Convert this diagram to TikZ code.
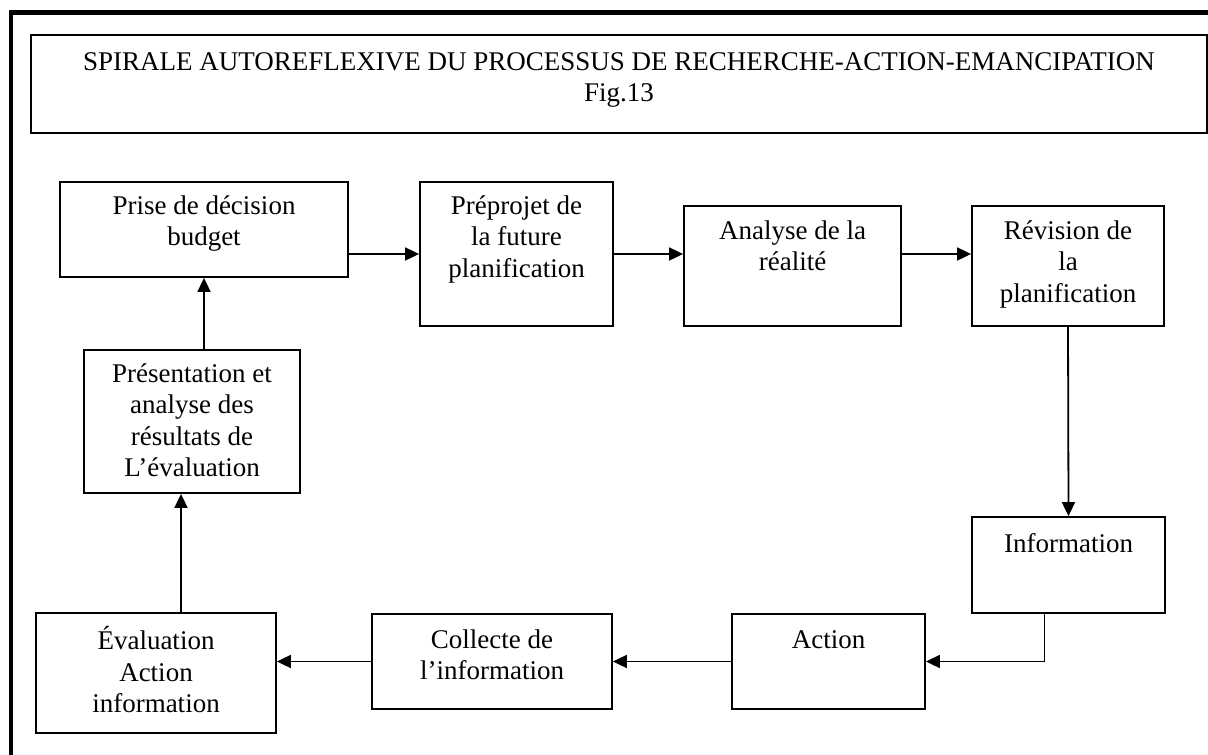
\documentclass[tikz,border=0pt]{standalone}
\usepackage{fontspec}
\setmainfont{Liberation Serif}
\usetikzlibrary{positioning, arrows.meta}

\begin{document}
\begin{tikzpicture}[
      x=0.5pt, y=-0.5pt,
      every node/.style={font=\fontsize{13.5}{15.7}\selectfont},
      stepbox/.style={draw, line width=0.9pt, inner sep=0pt},
      boxtext/.style={inner sep=0pt, align=center},
      flow/.style={->, line width=0.9pt},
      >={Triangle[length=7pt, width=6.5pt]},
    ]
    \path[use as bounding box, clip] (0,0) rectangle (1208,754);
    \draw[line width=2.2pt] (11,12.5) rectangle (1230,780);

    % title
    \node[stepbox, minimum width=588pt, minimum height=49pt] (title) at (619,84) {};
    \node[boxtext, below=7pt of title.north] (title-t)
      {\strut SPIRALE AUTOREFLEXIVE DU PROCESSUS DE RECHERCHE-ACTION-EMANCIPATION\\ Fig.13};

    % top row
    \node[stepbox, minimum width=144pt, minimum height=47.5pt] (prise) at (204,229.5) {};
    \node[boxtext, below=5.5pt of prise.north] (prise-t) {\strut Prise de décision\\ budget};
    \node[stepbox, minimum width=96.5pt, minimum height=72pt] (preprojet) at (516.5,254) {};
    \node[boxtext, below=5.5pt of preprojet.north] (preprojet-t) {\strut Préprojet de\\ la future\\ planification};
    \node[stepbox, minimum width=108.5pt, minimum height=60pt] (analyse) at (792.5,266) {};
    \node[boxtext, below=6pt of analyse.north] (analyse-t) {\strut Analyse de la\\ réalité};
    \node[stepbox, minimum width=96pt, minimum height=60pt] (revision) at (1068,266) {};
    \node[boxtext, below=6pt of revision.north] (revision-t) {\strut Révision de\\ la\\ planification};

    % right side and bottom row
    \node[stepbox, minimum width=96.5pt, minimum height=48pt] (information) at (1068.5,565) {};
    \node[boxtext, below=7pt of information.north] (information-t) {\strut Information};
    \node[stepbox, minimum width=96.5pt, minimum height=47.5pt] (action) at (828.5,661.5) {};
    \node[boxtext, below=6.5pt of action.north] (action-t) {\strut Action};
    \node[stepbox, minimum width=120pt, minimum height=47.5pt] (collecte) at (492,661.5) {};
    \node[boxtext, below=6.5pt of collecte.north] (collecte-t) {\strut Collecte de\\ l’information};
    \node[stepbox, minimum width=120pt, minimum height=60pt] (evaluation) at (156,673) {};
    \node[boxtext, below=7pt of evaluation.north] (evaluation-t) {\strut Évaluation\\ Action\\ information};

    % left side
    \node[stepbox, minimum width=108pt, minimum height=71.5pt] (presentation) at (192,421.5) {};
    \node[boxtext, below=5.5pt of presentation.north] (presentation-t)
      {\strut Présentation et\\ analyse des\\ résultats de\\ L’évaluation};

    % connectors
    \draw[flow] (preprojet.west -| prise.east) -- (preprojet.west);
    \draw[flow] (preprojet.east) -- (preprojet.east -| analyse.west);
    \draw[flow] (preprojet.east -| analyse.east) -- (preprojet.east -| revision.west);
    \draw[flow] (revision.south) -- (information.north);
    \draw[flow] ([xshift=-12pt]information.south) |- (action.east);
    \draw[flow] (action.west) -- (collecte.east);
    \draw[flow] (collecte.west) -- (collecte.west -| evaluation.east);
    \draw[flow] ([xshift=12.5pt]evaluation.north) -- ([xshift=12.5pt]evaluation.north |- presentation.south);
    \draw[flow] (presentation.north -| prise.south) -- (prise.south);
  \end{tikzpicture}
\end{document}
